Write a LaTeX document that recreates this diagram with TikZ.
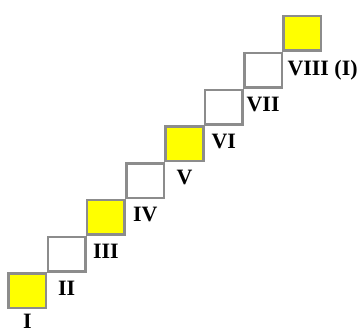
\documentclass[tikz,border=0pt]{standalone}
\usepackage{fontspec}
\setmainfont{Liberation Serif}
\definecolor{framegray}{RGB}{140,140,140}
\definecolor{keyyellow}{RGB}{255,255,0}
\tikzset{
	tone/.style = {draw = framegray, line width = 2.5bp, fill = #1, rectangle, minimum width = 37.5bp, minimum height = 34.5bp, inner sep = 0},
	degree/.style = {anchor = north, inner sep = 0, text = black, font = \fontsize{22}{26}\selectfont\bfseries}
}

\begin{document}
\begin{tikzpicture}[x = 1bp, y = -1bp]
		\useasboundingbox (0,0) rectangle (362,333);

		% the eight steps
		\foreach \i/\col in {0/keyyellow, 1/white, 2/keyyellow, 3/white, 4/keyyellow, 5/white, 6/white, 7/keyyellow} {
			\node[tone = \col] (sq\i) at (27.3 + 39.3*\i, 290.8 - 36.76*\i) {};
		}

		% numerals under the steps
		\node[degree, yshift = -5bp] (lb0) at (sq0.south) {I};
		\foreach \i/\lab in {1/II, 2/III, 3/IV, 4/V, 5/VI, 6/VII} {
			\node[degree, yshift = -8bp] (lb\i) at (sq\i.south) {\lab};
		}
		\node[degree, anchor = north west, yshift = -8bp] (lb7) at ([xshift = -15bp]sq7.south) {VIII (I)};
	\end{tikzpicture}
\end{document}
